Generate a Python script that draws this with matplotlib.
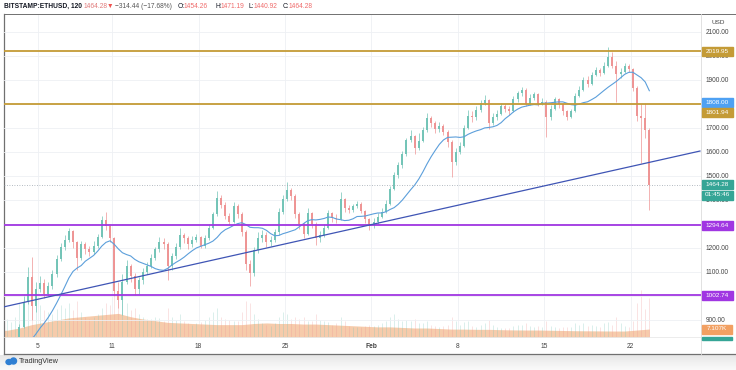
import matplotlib.pyplot as plt
import matplotlib.patches as mpatches
from matplotlib.lines import Line2D
import matplotlib.transforms as mtransforms
import numpy as np
import pandas as pd

plt.rcParams['font.family'] = ['Liberation Sans', 'DejaVu Sans']

W, H = 736, 370

# 8h candles, day -1 = Dec 31 2020, day 0 = Jan 1 2021 (3 candles per day)
first_open = 740
closes = [745, 736, 738, 742, 728, 731, 750, 772, 775, 795, 870, 975,
          1080, 960, 1030, 1055, 1010, 1040, 1090, 1155, 1205, 1235, 1270, 1225,
          1160, 1215, 1195, 1185, 1210, 1245, 1315, 1290, 1240, 1020, 985, 1060,
          1125, 1085, 1030, 1065, 1100, 1125, 1160, 1195, 1225, 1215, 1125, 1165,
          1205, 1255, 1240, 1215, 1235, 1245, 1210, 1240, 1285, 1340, 1410, 1380,
          1335, 1310, 1375, 1340, 1265, 1135, 1095, 1190, 1240, 1255, 1225, 1235,
          1265, 1350, 1405, 1440, 1415, 1340, 1300, 1260, 1345, 1300, 1240, 1255,
          1285, 1345, 1325, 1320, 1405, 1365, 1360, 1375, 1385, 1355, 1320, 1300,
          1310, 1330, 1350, 1385, 1445, 1505, 1545, 1590, 1650, 1665, 1615, 1645,
          1690, 1740, 1720, 1695, 1710, 1685, 1640, 1560, 1600, 1625, 1700, 1750,
          1745, 1775, 1805, 1815, 1720, 1745, 1760, 1790, 1780, 1770, 1820, 1845,
          1860, 1800, 1825, 1840, 1800, 1810, 1745, 1780, 1820, 1800, 1770, 1745,
          1770, 1835, 1860, 1900, 1885, 1920, 1940, 1930, 1960, 1995, 1960, 1925,
          1935, 1960, 1945, 1865, 1750, 1740, 1690, 1464.28]
highs = [752, 750, 745, 748, 746, 738, 758, 785, 788, 810, 885, 1000,
         1120, 1162, 1060, 1085, 1070, 1060, 1110, 1170, 1222, 1255, 1283, 1275,
         1230, 1228, 1225, 1210, 1230, 1260, 1335, 1350, 1300, 1245, 1060, 1090,
         1150, 1135, 1095, 1080, 1115, 1140, 1175, 1205, 1245, 1240, 1225, 1180,
         1220, 1283, 1262, 1248, 1250, 1258, 1250, 1255, 1300, 1350, 1438, 1420,
         1390, 1345, 1390, 1385, 1350, 1275, 1150, 1205, 1265, 1275, 1265, 1250,
         1280, 1365, 1420, 1475, 1450, 1425, 1350, 1310, 1367, 1350, 1310, 1270,
         1298, 1358, 1350, 1340, 1433, 1410, 1380, 1385, 1395, 1390, 1360, 1325,
         1325, 1345, 1365, 1400, 1460, 1515, 1560, 1605, 1660, 1692, 1670, 1679,
         1705, 1762, 1750, 1730, 1725, 1715, 1690, 1650, 1615, 1640, 1712, 1775,
         1770, 1790, 1817, 1837, 1820, 1762, 1775, 1804, 1800, 1790, 1832, 1855,
         1871, 1865, 1840, 1850, 1845, 1825, 1815, 1795, 1829, 1825, 1805, 1775,
         1780, 1846, 1875, 1912, 1915, 1935, 1955, 1950, 1975, 2037, 2015, 1980,
         1950, 1971, 1965, 1950, 1875, 1800, 1805, 1700]
lows = [735, 728, 730, 733, 716, 722, 728, 745, 765, 770, 792, 865,
        965, 900, 935, 1015, 990, 1000, 1030, 1080, 1145, 1190, 1225, 1200,
        1108, 1150, 1175, 1165, 1175, 1200, 1240, 1275, 1225, 1000, 950, 921,
        1050, 1060, 1004, 1010, 1050, 1090, 1115, 1150, 1185, 1195, 1067, 1110,
        1155, 1195, 1220, 1195, 1205, 1225, 1198, 1200, 1232, 1278, 1335, 1365,
        1320, 1295, 1305, 1325, 1250, 1110, 1042, 1085, 1180, 1225, 1205, 1210,
        1225, 1255, 1340, 1395, 1400, 1325, 1280, 1240, 1255, 1285, 1212, 1225,
        1245, 1280, 1310, 1305, 1315, 1350, 1345, 1350, 1365, 1345, 1305, 1275,
        1285, 1300, 1325, 1345, 1380, 1440, 1490, 1535, 1585, 1640, 1590, 1610,
        1640, 1685, 1705, 1680, 1685, 1670, 1620, 1496, 1545, 1590, 1620, 1695,
        1725, 1735, 1765, 1795, 1695, 1712, 1735, 1755, 1765, 1755, 1765, 1810,
        1835, 1790, 1795, 1815, 1790, 1795, 1662, 1735, 1775, 1785, 1755, 1733,
        1740, 1765, 1830, 1855, 1870, 1880, 1915, 1915, 1925, 1955, 1950, 1808,
        1910, 1930, 1935, 1855, 1730, 1554, 1660, 1358]
volumes = [10, 9, 8, 8, 9, 8, 12, 16, 13, 18, 30, 38,
           45, 55, 35, 28, 24, 22, 20, 25, 28, 26, 30, 24,
           32, 22, 18, 16, 18, 20, 26, 30, 28, 45, 40, 48,
           30, 24, 26, 20, 18, 16, 16, 18, 17, 14, 26, 18,
           15, 20, 14, 12, 11, 12, 13, 15, 18, 22, 26, 18,
           16, 15, 14, 14, 22, 32, 30, 20, 16, 12, 11, 10,
           12, 18, 22, 20, 16, 18, 16, 18, 14, 14, 20, 15,
           14, 13, 11, 12, 18, 14, 10, 9, 9, 9, 10, 11,
           10, 11, 12, 14, 18, 20, 16, 14, 15, 14, 16, 12,
           12, 14, 11, 10, 9, 10, 11, 18, 14, 11, 13, 14,
           10, 9, 11, 12, 15, 11, 9, 8, 8, 8, 10, 11,
           11, 12, 10, 9, 10, 9, 14, 10, 9, 8, 9, 9,
           9, 12, 11, 12, 10, 11, 10, 9, 12, 13, 11, 18,
           12, 10, 9, 14, 30, 42, 25, 35]
# smoothed volume (K), one value per day from Dec 31
vol_avg = [5, 5.5, 6, 8, 11, 13, 15, 17, 18, 19, 20, 21, 18, 16, 14.5, 13,
           12.5, 12, 11.5, 11, 11, 11, 12, 12.5, 12, 12, 11.5, 11.5, 11, 10.5,
           10, 9.5, 9, 9, 8.5, 8, 8, 7.5, 7, 7, 6.8, 6.8, 6.5, 6.3, 6.2, 6.2,
           6, 5.8, 5.6, 5.5, 5.4, 5.3, 5.3, 6.2, 7.1]

tick_days = [4, 10, 17, 24, 31, 38, 45, 52]
tick_labels = ['5', '11', '18', '25', 'Feb', '8', '15', '22']

gold_levels = [2019.95, 1801.94]
purple_levels = [1294.64, 1002.74]
trend_days = [1.17, 57.6]
trend_prices = [954, 1604]
last_price = 1464.28

GREEN, RED = '#72c4b7', '#ee9494'


def fx(x):
    return x / W


def fy(y):
    return 1 - y / H


def price_px(p):
    return 32 + (2100 - p) * 0.24


fig = plt.figure(figsize=(W / 100, H / 100), dpi=100)
fig.patch.set_facecolor('white')
rect = [fx(4), fy(337), (701 - 4) / W, (337 - 14) / H]

# volume pane behind the price
axv = fig.add_axes(rect, zorder=1)
ax = fig.add_axes(rect, zorder=2, sharex=axv)
ax.patch.set_alpha(0)

xmin, xmax = 4 + (4 - 38) / 12.35, 4 + (701 - 38) / 12.35
ax.set_xlim(xmin, xmax)
ax.set_ylim(829.17, 2175)
axv.set_ylim(0, 287)

n = len(closes)
t = -1 + np.arange(n) / 3 + 1 / 6
opens = np.array([first_open] + closes[:-1], dtype=float)
c = np.array(closes, dtype=float)
up = c >= opens
cols = np.where(up, GREEN, RED)

# volume
axv.vlines(t, 0, volumes, colors=cols, lw=0.6, alpha=0.3)
va_x = np.minimum(np.arange(-1, len(vol_avg) - 1) + 0.5, t[-1] + 1 / 6)
axv.fill_between(va_x, 0, vol_avg, color='#f6c6a2', lw=0, alpha=0.9)

for a in (ax, axv):
    for s in a.spines.values():
        s.set_visible(False)
    a.set_xticks([])
    a.set_yticks([])

# grid
for d in tick_days:
    axv.axvline(d, color='#eef0f4', lw=0.6, zorder=0)
for p in range(900, 2200, 100):
    ax.axhline(p, color='#eef0f4', lw=0.6, zorder=0)

# candles
ax.vlines(t, lows, highs, colors=cols, lw=0.5, zorder=2)
body_lo = np.minimum(opens, c)
body_hi = np.maximum(opens, c)
body_hi = np.where(body_hi - body_lo < 3, body_lo + 3, body_hi)
ax.vlines(t, body_lo, body_hi, colors=cols, lw=1.4, zorder=2)

ma = pd.Series(c).rolling(13).mean()
ax.plot(t, ma, color='#5c9fdb', lw=0.8, zorder=3)

ax.axhline(last_price, color='#9aa3ad', lw=0.6, ls=(0, (1, 2)), zorder=3)
for p in gold_levels:
    ax.axhline(p, color='#c49b36', lw=1.3, zorder=4)
for p in purple_levels:
    ax.axhline(p, color='#a036e2', lw=1.3, zorder=4)
ax.plot(trend_days, trend_prices, color='#3f55b5', lw=0.9, zorder=4)

# date labels
tr = mtransforms.blended_transform_factory(ax.transData, fig.transFigure)
for d, lab in zip(tick_days, tick_labels):
    fig.text(d, fy(347), lab, transform=tr, ha='center', va='center',
             fontsize=4.8, color='#444444',
             fontweight='bold' if lab == 'Feb' else 'normal')

# price scale (1800, 1300, 1000 sit fully under the level boxes)
fig.text(fx(712), fy(23), 'USD', fontsize=4.6, color='#444444', va='center')
for p in range(900, 2200, 100):
    if p in (1800, 1300, 1000):
        continue
    fig.text(fx(706), fy(price_px(p)), f'{p:.2f}', fontsize=4.7,
             color='#444444', va='center', ha='left')


def box(ypix, text, color, x0=702, x1=733, h=9):
    fig.add_artist(mpatches.Rectangle((fx(x0), fy(ypix + h / 2)), (x1 - x0) / W,
                                      h / H, transform=fig.transFigure,
                                      color=color, zorder=5))
    fig.text(fx((x0 + x1) / 2), fy(ypix), text, color='white', fontsize=4.6,
             ha='center', va='center', zorder=6)


box(price_px(2019.95), '2019.95', '#c49b36')
box(price_px(1808.0), '1808.00', '#4ea1f3')
box(112, '1801.94', '#c49b36')
box(price_px(last_price), '1464.28', '#35a596')
box(195, '01:45:46', '#35a596')
box(price_px(1294.64), '1294.64', '#a036e2')
box(price_px(1002.74), '1002.74', '#a036e2')
box(329, '7.107K', '#f2a062', x1=732)
fig.add_artist(mpatches.Rectangle((fx(702), fy(339.5)), 30 / W, 3 / H,
                                  transform=fig.transFigure, color='#35a596',
                                  zorder=5))

# frame
fc = '#707070'
fig.add_artist(Line2D([fx(4), fx(4)], [fy(14), fy(354)], color=fc, lw=0.9))
fig.add_artist(Line2D([fx(4), fx(736)], [fy(14), fy(14)], color=fc, lw=0.7))
fig.add_artist(Line2D([fx(4), fx(736)], [fy(354), fy(354)], color=fc, lw=0.9))
fig.add_artist(Line2D([fx(701), fx(701)], [fy(14), fy(354)], color='#dcdcdc', lw=0.6))
fig.add_artist(Line2D([fx(4), fx(701)], [fy(337), fy(337)], color='#e4e4e4', lw=0.5))

# footer
fax = fig.add_axes([0, 0, 1, 15.5 / H], zorder=0)
fax.imshow(np.linspace(0.9, 0.98, 20).reshape(-1, 1), cmap='gray', vmin=0, vmax=1,
           aspect='auto', extent=[0, 1, 0, 1])
fax.axis('off')
fig.add_artist(mpatches.Ellipse((fx(9), fy(362)), 6 / W, 5 / H,
                                transform=fig.transFigure, color='#2f7fd3'))
fig.add_artist(mpatches.Ellipse((fx(13.5), fy(361)), 6 / W, 6 / H,
                                transform=fig.transFigure, color='#2f7fd3'))
fig.text(fx(19), fy(361.5), 'TradingView', fontsize=5.2, color='#333333',
         va='center', ha='left')

# header
hdr = [(4, 'BITSTAMP:ETHUSD, 120', '#131722', 'bold'),
       (84, '1464.28', '#e07a7a', 'normal'),
       (107, '\u25bc', '#ef5350', 'normal'),
       (115, '\u2212314.44 (\u221217.68%)', '#555555', 'normal'),
       (178, 'O:', '#131722', 'normal'), (184, '1454.26', '#ef6b6b', 'normal'),
       (215, 'H:', '#131722', 'normal'), (221, '1471.19', '#ef6b6b', 'normal'),
       (249, 'L:', '#131722', 'normal'), (254, '1440.92', '#ef6b6b', 'normal'),
       (283, 'C:', '#131722', 'normal'), (289, '1464.28', '#ef6b6b', 'normal')]
for x, s, col, fw in hdr:
    fig.text(fx(x), fy(6), s, fontsize=4.8, color=col, fontweight=fw,
             va='center', ha='left')

fig.savefig('out.png', dpi=100)
